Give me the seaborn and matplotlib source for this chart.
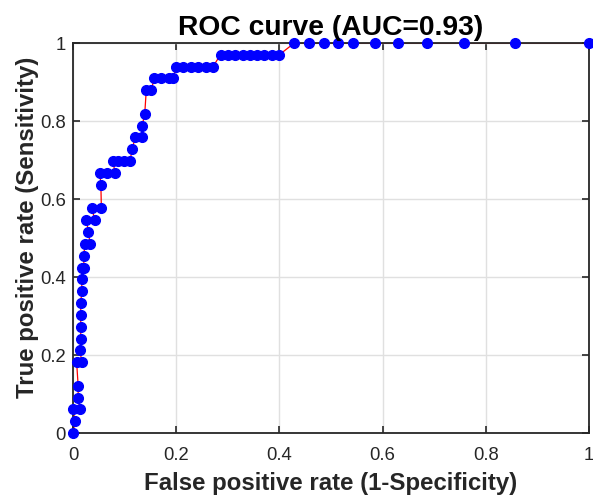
import matplotlib
matplotlib.use("Agg")
import matplotlib.pyplot as plt
import seaborn as sns
import pandas as pd

fpr = [0.0, 0.004, 0.0, 0.013, 0.010, 0.010, 0.007, 0.017, 0.0135, 0.015, 0.015, 0.015,
       0.015, 0.017, 0.017, 0.017, 0.021, 0.021, 0.023, 0.033, 0.030, 0.026, 0.043,
       0.036, 0.055, 0.054, 0.052, 0.066, 0.081, 0.078, 0.088, 0.099, 0.110, 0.115,
       0.120, 0.133, 0.134, 0.139, 0.142, 0.152, 0.157, 0.171, 0.186, 0.194,
       0.200, 0.214, 0.229, 0.243, 0.257, 0.271,
       0.286, 0.300, 0.314, 0.329, 0.343, 0.357, 0.371, 0.386, 0.400,
       0.429, 0.457, 0.486, 0.514, 0.543, 0.586, 0.629, 0.686, 0.757, 0.857, 1.0]
tpr = [0.0, 0.030, 0.061, 0.061, 0.091, 0.121, 0.182, 0.182, 0.212, 0.242, 0.273, 0.303,
       0.333, 0.364, 0.394, 0.424, 0.424, 0.455, 0.485, 0.485, 0.515, 0.545, 0.545,
       0.576, 0.576, 0.636, 0.667, 0.667, 0.667, 0.697, 0.697, 0.697, 0.697, 0.727,
       0.758, 0.758, 0.788, 0.818, 0.879, 0.879, 0.909, 0.909, 0.909, 0.909,
       0.939, 0.939, 0.939, 0.939, 0.939, 0.939,
       0.970, 0.970, 0.970, 0.970, 0.970, 0.970, 0.970, 0.970, 0.970,
       1.0, 1.0, 1.0, 1.0, 1.0, 1.0, 1.0, 1.0, 1.0, 1.0, 1.0]
ticks = [0, 0.2, 0.4, 0.6, 0.8, 1]
tick_labels = ["0", "0.2", "0.4", "0.6", "0.8", "1"]
title = "ROC curve (AUC=0.93)"
xlabel = "False positive rate (1-Specificity)"
ylabel = "True positive rate (Sensitivity)"

df = pd.DataFrame({"fpr": fpr, "tpr": tpr})

sns.set_theme(style="white")
plt.rcParams["font.family"] = ["Liberation Sans", "DejaVu Sans"]

fig = plt.figure(figsize=(5.93, 4.97), dpi=100)
ax = fig.add_axes([73 / 593, 1 - 433 / 497, 516 / 593, 390 / 497])

sns.lineplot(data=df, x="fpr", y="tpr", sort=False, estimator=None, color="red",
             linewidth=0.9, ax=ax, zorder=2)
ax.plot(df["fpr"], df["tpr"], linestyle="none", marker="o", markersize=7,
        markerfacecolor="#0000ff", markeredgecolor="#0000ff", zorder=3, clip_on=False)

ax.set_xlim(0, 1)
ax.set_ylim(0, 1)
ax.set_xticks(ticks)
ax.set_xticklabels(tick_labels)
ax.set_yticks(ticks)
ax.set_yticklabels(tick_labels)
ax.grid(True, color="#e0e0e0", linewidth=1.0)
ax.set_axisbelow(True)
for s in ax.spines.values():
    s.set_color("#262626")
    s.set_linewidth(1.3)
    s.set_visible(True)
ax.tick_params(axis="both", direction="in", length=5, width=1.2, color="#262626",
               labelsize=13.3, labelcolor="#262626", top=True, right=True,
               bottom=True, left=True)
ax.tick_params(axis="x", pad=10)
ax.tick_params(axis="y", pad=5)
ax.set_title(title, fontsize=20.3, fontweight="bold", color="black", pad=6)
ax.set_xlabel(xlabel, fontsize=17.3, fontweight="bold", color="#262626", labelpad=6)
ax.set_ylabel(ylabel, fontsize=17.3, fontweight="bold", color="#262626", labelpad=7)
ax.yaxis.set_label_coords(-0.066, 0.527)

fig.savefig("out.png", dpi=100)
